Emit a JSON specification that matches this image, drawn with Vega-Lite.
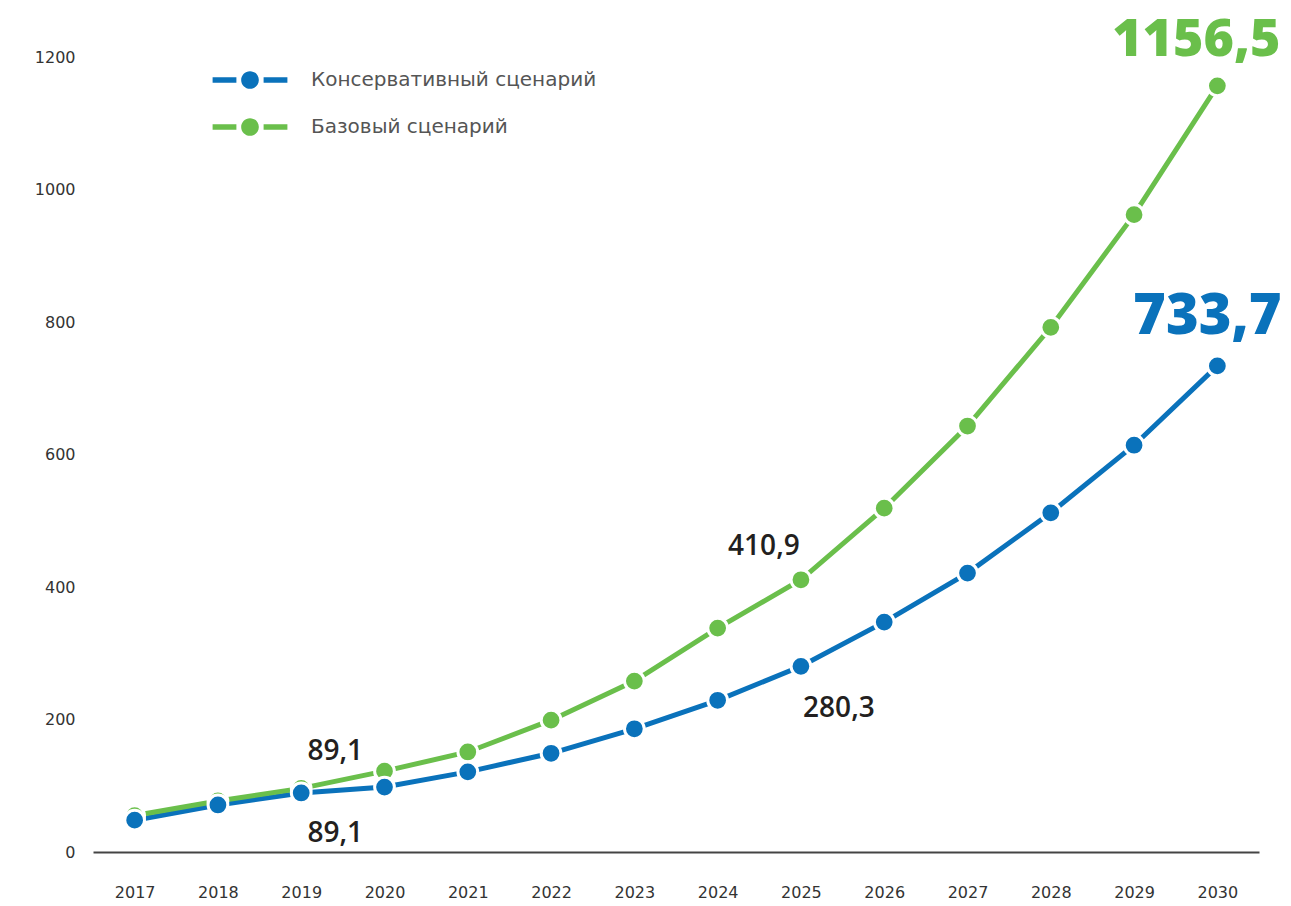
{
  "$schema": "https://vega.github.io/schema/vega-lite/v6.json",
  "width": 1166,
  "height": 795,
  "autosize": {"type": "none"},
  "padding": {"left": 93, "top": 57, "right": 32, "bottom": 54},
  "background": "white",
  "config": {
    "view": {"stroke": null},
    "font": "DejaVu Sans"
  },
  "data": {
    "values": [
      {"year": "2017", "series": "Консервативный сценарий", "value": 48},
      {"year": "2018", "series": "Консервативный сценарий", "value": 71},
      {"year": "2019", "series": "Консервативный сценарий", "value": 89.1},
      {"year": "2020", "series": "Консервативный сценарий", "value": 98},
      {"year": "2021", "series": "Консервативный сценарий", "value": 121},
      {"year": "2022", "series": "Консервативный сценарий", "value": 149},
      {"year": "2023", "series": "Консервативный сценарий", "value": 186},
      {"year": "2024", "series": "Консервативный сценарий", "value": 229},
      {"year": "2025", "series": "Консервативный сценарий", "value": 280.3},
      {"year": "2026", "series": "Консервативный сценарий", "value": 347},
      {"year": "2027", "series": "Консервативный сценарий", "value": 421},
      {"year": "2028", "series": "Консервативный сценарий", "value": 512},
      {"year": "2029", "series": "Консервативный сценарий", "value": 614},
      {"year": "2030", "series": "Консервативный сценарий", "value": 733.7},
      {"year": "2017", "series": "Базовый сценарий", "value": 55},
      {"year": "2018", "series": "Базовый сценарий", "value": 77},
      {"year": "2019", "series": "Базовый сценарий", "value": 96},
      {"year": "2020", "series": "Базовый сценарий", "value": 122},
      {"year": "2021", "series": "Базовый сценарий", "value": 151},
      {"year": "2022", "series": "Базовый сценарий", "value": 199},
      {"year": "2023", "series": "Базовый сценарий", "value": 258},
      {"year": "2024", "series": "Базовый сценарий", "value": 338},
      {"year": "2025", "series": "Базовый сценарий", "value": 410.9},
      {"year": "2026", "series": "Базовый сценарий", "value": 519},
      {"year": "2027", "series": "Базовый сценарий", "value": 643},
      {"year": "2028", "series": "Базовый сценарий", "value": 792},
      {"year": "2029", "series": "Базовый сценарий", "value": 962},
      {"year": "2030", "series": "Базовый сценарий", "value": 1156.5}
    ]
  },
  "encoding": {
    "x": {
      "field": "year", "type": "ordinal",
      "scale": {"type": "point", "padding": 0.5},
      "axis": {
        "title": null, "labelAngle": 0, "ticks": false,
        "domainColor": "#444", "domainWidth": 2,
        "labelFontSize": 16, "labelColor": "#333", "labelPadding": 32,
        "labelFont": "DejaVu Sans"
      }
    },
    "y": {
      "field": "value", "type": "quantitative",
      "scale": {"domain": [0, 1200], "nice": false},
      "axis": {
        "title": null, "values": [0, 200, 400, 600, 800, 1000, 1200],
        "format": "d",
        "grid": false, "domain": false, "ticks": false,
        "labelFontSize": 16, "labelColor": "#333", "labelPadding": 18,
        "labelFont": "DejaVu Sans"
      }
    }
  },
  "layer": [
    {
      "transform": [{"filter": "datum.series === 'Консервативный сценарий'"}],
      "mark": {"type": "line", "strokeWidth": 5},
      "encoding": {
        "color": {
          "field": "series", "type": "nominal",
          "scale": {
            "domain": ["Консервативный сценарий", "Базовый сценарий"],
            "range": ["#0a72bb", "#6abf4b"]
          },
          "legend": {
            "title": null,
            "orient": "none",
            "legendX": 140,
            "legendY": 6,
            "padding": 0,
            "symbolType": "M-2.2,-0.16H-0.8V0.16H-2.2Z M0.8,-0.16H2.2V0.16H0.8Z M-0.52,0A0.52,0.52 0 1,0 0.52,0A0.52,0.52 0 1,0 -0.52,0Z",
            "symbolSize": 1156,
            "symbolStrokeWidth": 0,
            "symbolOpacity": 1,
            "labelOffset": 44,
            "rowPadding": 20,
            "labelFontSize": 20,
            "labelColor": "#555",
            "labelFont": "DejaVu Sans",
            "labelLimit": 500,
            "encode": {
              "symbols": {
                "update": {
                  "fill": {"scale": "color", "field": "value"},
                  "strokeWidth": {"value": 0}
                }
              }
            }
          }
        }
      }
    },
    {
      "transform": [{"filter": "datum.series === 'Базовый сценарий'"}],
      "mark": {"type": "line", "strokeWidth": 5},
      "encoding": {
        "color": {"field": "series", "type": "nominal"}
      }
    },
    {
      "mark": {"type": "point", "filled": true, "size": 390, "stroke": "white", "strokeWidth": 3, "opacity": 1, "strokeOpacity": 1},
      "encoding": {
        "color": {"field": "series", "type": "nominal"},
        "order": {"field": "series", "sort": "ascending"}
      }
    },
    {
      "transform": [{"filter": "datum.year === '2019' && datum.series === 'Базовый сценарий'"}],
      "mark": {"type": "text", "fontSize": 28, "fontWeight": 600, "color": "#231f20", "dx": 34, "dy": -36, "font": "Open Sans"},
      "encoding": {"text": {"value": "89,1"}}
    },
    {
      "transform": [{"filter": "datum.year === '2019' && datum.series === 'Консервативный сценарий'"}],
      "mark": {"type": "text", "fontSize": 28, "fontWeight": 600, "color": "#231f20", "dx": 34, "dy": 41, "font": "Open Sans"},
      "encoding": {"text": {"value": "89,1"}}
    },
    {
      "transform": [{"filter": "datum.year === '2025' && datum.series === 'Базовый сценарий'"}],
      "mark": {"type": "text", "fontSize": 28, "fontWeight": 600, "color": "#231f20", "dx": -37, "dy": -33, "font": "Open Sans"},
      "encoding": {"text": {"value": "410,9"}}
    },
    {
      "transform": [{"filter": "datum.year === '2025' && datum.series === 'Консервативный сценарий'"}],
      "mark": {"type": "text", "fontSize": 28, "fontWeight": 600, "color": "#231f20", "dx": 38, "dy": 43, "font": "Open Sans"},
      "encoding": {"text": {"value": "280,3"}}
    },
    {
      "transform": [{"filter": "datum.year === '2030' && datum.series === 'Базовый сценарий'"}],
      "mark": {"type": "text", "fontSize": 52, "fontWeight": 800, "color": "#6abf4b", "dx": -21, "dy": -46, "font": "Open Sans", "letterSpacing": -3},
      "encoding": {"text": {"value": "1156,5"}}
    },
    {
      "transform": [{"filter": "datum.year === '2030' && datum.series === 'Консервативный сценарий'"}],
      "mark": {"type": "text", "fontSize": 56, "fontWeight": 800, "color": "#0a72bb", "dx": -10, "dy": -49, "font": "Open Sans", "letterSpacing": -1},
      "encoding": {"text": {"value": "733,7"}}
    }
  ]
}
